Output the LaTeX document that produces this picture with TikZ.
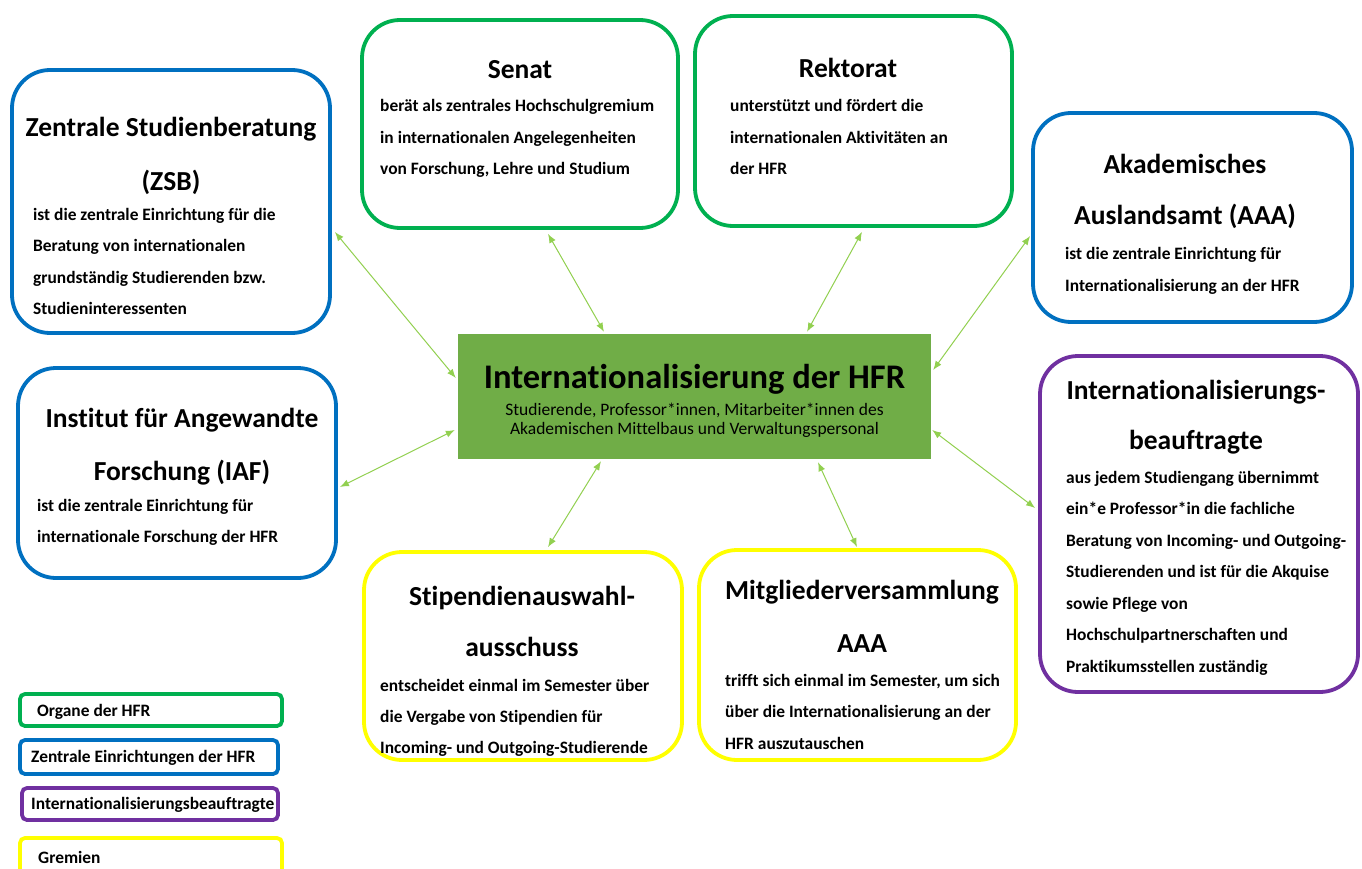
\documentclass[tikz,border=0pt]{standalone}
\usepackage{fontspec}
\setmainfont{Carlito}[Ligatures=NoCommon]
\usetikzlibrary{arrows.meta}
\definecolor{cgreen}{HTML}{00B050}
\definecolor{cblue}{HTML}{0070C0}
\definecolor{cpurple}{HTML}{7030A0}
\definecolor{cyellow}{HTML}{FFFF00}
\definecolor{cfill}{HTML}{70AD47}
\definecolor{carrow}{HTML}{92D050}
\tikzset{
  x=1pt,y=-1pt,
  box/.style={draw, line width=3.8pt, rounded corners=38pt, inner sep=0pt, fill=white},
  legbox/.style={draw, line width=3.8pt, rounded corners=5pt, inner sep=0pt, fill=white},
  ttl/.style={font=\fontsize{27.5}{27.5}\bfseries\selectfont, inner sep=0pt, anchor=base},
  txt/.style={font=\fontsize{17.4}{17.4}\bfseries\selectfont, inner sep=0pt, anchor=base west},
  legtxt/.style={font=\fontsize{17.4}{17.4}\bfseries\selectfont, inner sep=0pt, anchor=base west},
  conn/.style={draw=carrow, line width=1pt, {Latex[length=9pt,width=7pt]}-{Latex[length=9pt,width=7pt]}},
}
\begin{document}
\begin{tikzpicture}
\clip (0,0) rectangle (1362,869);
\fill[white] (0,0) rectangle (1362,869);

% boxes
\node[box, draw=cblue, minimum width=318pt, minimum height=263pt] (zsb) at (171,201.5) {};
\node[box, draw=cgreen, minimum width=316pt, minimum height=208pt] (senat) at (520,124) {};
\node[box, draw=cgreen, minimum width=317pt, minimum height=210pt] (rek) at (853.5,121) {};
\node[box, draw=cblue, minimum width=319pt, minimum height=209pt] (aaa) at (1192.5,217.5) {};
\node[box, draw=cblue, minimum width=318pt, minimum height=210pt] (iaf) at (177,473) {};
\node[box, draw=cpurple, minimum width=318pt, minimum height=336pt] (ib) at (1199,524) {};
\node[box, draw=cyellow, minimum width=318pt, minimum height=208pt] (stip) at (523,656) {};
\node[box, draw=cyellow, minimum width=317pt, minimum height=210pt] (mv) at (857.5,655) {};
\node[fill=cfill, draw=none, inner sep=0pt, minimum width=473pt, minimum height=125pt] (hfr) at (694.5,396.5) {};

% center text
\node[font=\fontsize{34.5}{34.5}\bfseries\selectfont, inner sep=0pt, anchor=base] (hfrt) at (694.5,388) {Internationalisierung der HFR};
\node[font=\fontsize{17.5}{17.5}\selectfont, inner sep=0pt, anchor=base] (hfrs1) at (694.5,415) {Studierende, Professor*innen, Mitarbeiter*innen des};
\node[font=\fontsize{17.5}{17.5}\selectfont, inner sep=0pt, anchor=base] (hfrs2) at (694.5,434) {Akademischen Mittelbaus und Verwaltungspersonal};

% ZSB
\node[ttl] (zsbt1) at (171,137) {Zentrale Studienberatung};
\node[ttl] (zsbt2) at (171,190) {(ZSB)};
\node[txt] (zsb1) at (33,220) {ist die zentrale Einrichtung für die};
\node[txt] (zsb2) at (33,251) {Beratung von internationalen};
\node[txt] (zsb3) at (33,283) {grundständig Studierenden bzw.};
\node[txt] (zsb4) at (33,314) {Studieninteressenten};

% Senat
\node[ttl] (sent) at (520,79) {Senat};
\node[txt] (sen1) at (380,112) {berät als zentrales Hochschulgremium};
\node[txt] (sen2) at (380,144) {in internationalen Angelegenheiten};
\node[txt] (sen3) at (380,175) {von Forschung, Lehre und Studium};

% Rektorat
\node[ttl] (rekt) at (848,78) {Rektorat};
\node[txt] (rek1) at (730,112) {unterstützt und fördert die};
\node[txt] (rek2) at (730,144) {internationalen Aktivitäten an};
\node[txt] (rek3) at (730,175) {der HFR};

% AAA
\node[ttl] (aaat1) at (1185,174) {Akademisches};
\node[ttl] (aaat2) at (1185,225) {Auslandsamt (AAA)};
\node[txt] (aaa1) at (1065,259) {ist die zentrale Einrichtung für};
\node[txt] (aaa2) at (1065,291) {Internationalisierung an der HFR};

% IAF
\node[ttl] (iaft1) at (182,427) {Institut für Angewandte};
\node[ttl] (iaft2) at (182,480) {Forschung (IAF)};
\node[txt] (iaf1) at (37,511) {ist die zentrale Einrichtung für};
\node[txt] (iaf2) at (37,542) {internationale Forschung der HFR};

% Internationalisierungsbeauftragte
\node[ttl] (ibt1) at (1196,399) {Internationalisierungs-};
\node[ttl] (ibt2) at (1196,449) {beauftragte};
\node[txt] (ib1) at (1066,483) {aus jedem Studiengang übernimmt};
\node[txt] (ib2) at (1066,514) {ein*e Professor*in die fachliche};
\node[txt] (ib3) at (1066,546) {Beratung von Incoming- und Outgoing-};
\node[txt] (ib4) at (1066,577) {Studierenden und ist für die Akquise};
\node[txt] (ib5) at (1066,609) {sowie Pflege von};
\node[txt] (ib6) at (1066,640) {Hochschulpartnerschaften und};
\node[txt] (ib7) at (1066,672) {Praktikumsstellen zuständig};

% Stipendien
\node[ttl] (stipt1) at (522,605) {Stipendienauswahl-};
\node[ttl] (stipt2) at (522,656) {ausschuss};
\node[txt] (stip1) at (380,691) {entscheidet einmal im Semester über};
\node[txt] (stip2) at (380,722) {die Vergabe von Stipendien für};
\node[txt] (stip3) at (380,753) {Incoming- und Outgoing-Studierende};

% Mitgliederversammlung
\node[ttl] (mvt1) at (862,599) {Mitgliederversammlung};
\node[ttl] (mvt2) at (862,652) {AAA};
\node[txt] (mv1) at (725,686) {trifft sich einmal im Semester, um sich};
\node[txt] (mv2) at (725,717) {über die Internationalisierung an der};
\node[txt] (mv3) at (725,749) {HFR auszutauschen};

% legend
\node[legbox, draw=cgreen, minimum width=262pt, minimum height=32pt] (leg1) at (151,710) {};
\node[legbox, draw=cblue, minimum width=258pt, minimum height=34pt] (leg2) at (149,757) {};
\node[legbox, draw=cpurple, minimum width=256pt, minimum height=32pt] (leg3) at (150,804) {};
\node[legbox, draw=cyellow, minimum width=262pt, minimum height=44pt] (leg4) at (151,860) {};
\node[legtxt] (leg1t) at (37,716) {Organe der HFR};
\node[legtxt] (leg2t) at (31,762) {Zentrale Einrichtungen der HFR};
\node[legtxt] (leg3t) at (31,809) {Internationalisierungsbeauftragte};
\node[legtxt] (leg4t) at (38,863) {Gremien};

% connectors
\draw[conn] ([shift={(3,30.5)}]zsb.east) -- ([shift={(-2,-18.5)}]hfr.west);
\draw[conn] ([shift={(28,4)}]senat.south) -- ([shift={(-90.5,-2)}]hfr.north);
\draw[conn] ([shift={(8.5,4)}]rek.south) -- ([shift={(112.5,-2)}]hfr.north);
\draw[conn] ([shift={(-1,18.5)}]aaa.west) -- ([shift={(2,-26.5)}]hfr.east);
\draw[conn] ([shift={(2,14)}]iaf.east) -- ([shift={(-3,33.5)}]hfr.west);
\draw[conn] ([shift={(25,-3)}]stip.north) -- ([shift={(-93.5,2)}]hfr.south);
\draw[conn] ([shift={(-0.5,-1)}]mv.north) -- ([shift={(123.5,3)}]hfr.south);
\draw[conn] ([shift={(-3,-16)}]ib.west) -- ([shift={(1,33.5)}]hfr.east);
\end{tikzpicture}
\end{document}
